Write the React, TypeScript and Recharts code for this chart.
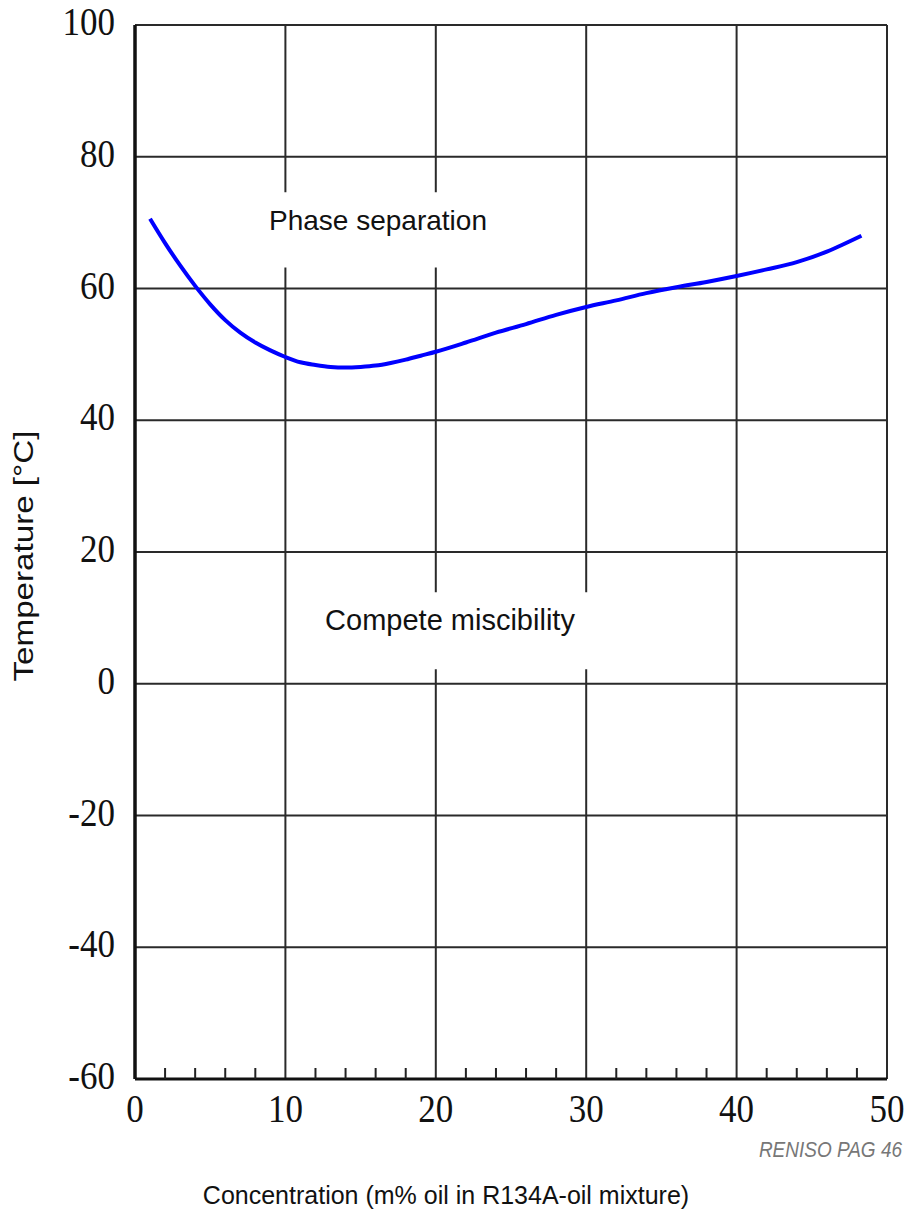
import { LineChart, Line, XAxis, YAxis, CartesianGrid, ReferenceArea } from 'recharts';

// Miscibility curve, R134A / PAG oil
const concentration = [1, 2, 3, 4, 5, 6, 7, 8, 9, 10, 11, 12, 13, 14, 15, 16, 17, 18, 19, 20, 22, 24, 26, 28, 30, 32, 34, 36, 38, 40, 42, 44, 46, 47, 48.3];
const temperature = [70.6, 66.9, 63.5, 60.4, 57.6, 55.2, 53.3, 51.8, 50.6, 49.6, 48.8, 48.4, 48.1, 48.0, 48.1, 48.3, 48.7, 49.2, 49.8, 50.4, 51.8, 53.3, 54.6, 56.0, 57.2, 58.2, 59.3, 60.2, 61.0, 61.9, 62.9, 64.0, 65.6, 66.6, 68.0];

const xTicks = [0, 2, 4, 6, 8, 10, 12, 14, 16, 18, 20, 22, 24, 26, 28, 30, 32, 34, 36, 38, 40, 42, 44, 46, 48, 50];
const yTicks = [-60, -40, -20, 0, 20, 40, 60, 80, 100];

const data = concentration.map((c, i) => ({ c, t: temperature[i] }));

const SERIF = '"Liberation Serif", "Times New Roman", serif';
const SANS = '"Liberation Sans", Arial, sans-serif';
const STRETCH = 1.17; // the source image is a bit taller than it is wide

type TickProps = { x?: number; y?: number; payload?: { value: number } };

function XTick({ x = 0, y = 0, payload }: TickProps) {
  const v = payload?.value ?? 0;
  if (v % 10 !== 0) {
    // minor ticks point up into the plot
    return <line x1={x} x2={x} y1={y} y2={y - 11} stroke="#222" strokeWidth={2} />;
  }
  return (
    <text
      transform={`translate(${x},${y + 43}) scale(1,${STRETCH})`}
      textAnchor="middle"
      fontFamily={SERIF}
      fontSize={35}
      fill="#111"
    >
      {v}
    </text>
  );
}

function YTick({ x = 0, y = 0, payload }: TickProps) {
  return (
    <text
      transform={`translate(${x},${y + 10}) scale(1,${STRETCH})`}
      textAnchor="end"
      fontFamily={SERIF}
      fontSize={35}
      fill="#111"
    >
      {payload?.value}
    </text>
  );
}

export default function App() {
  return (
    <div style={{ position: 'absolute', left: 0, top: 0, width: 912, height: 1209, background: '#fff' }}>
      <LineChart width={912} height={1209} data={data} margin={{ top: 25, right: 25, bottom: 70, left: 75 }}>
        <CartesianGrid stroke="#2a2a2a" strokeWidth={2} horizontalValues={yTicks} verticalValues={[0, 10, 20, 30, 40, 50]} />
        <XAxis
          dataKey="c"
          type="number"
          domain={[0, 50]}
          ticks={xTicks}
          interval={0}
          height={60}
          tickLine={false}
          tickSize={0}
          tickMargin={0}
          tick={<XTick />}
          axisLine={{ stroke: '#111', strokeWidth: 3 }}
        />
        <YAxis
          type="number"
          domain={[-60, 100]}
          ticks={yTicks}
          interval={0}
          width={60}
          tickLine={false}
          tickSize={0}
          tickMargin={20}
          tick={<YTick />}
          axisLine={{ stroke: '#111', strokeWidth: 3.5 }}
        />
        <ReferenceArea x1={7.6} x2={26.6} y1={63.2} y2={74.6} fill="#fff" fillOpacity={1} stroke="none" />
        <ReferenceArea x1={12.2} x2={31} y1={2.2} y2={13.9} fill="#fff" fillOpacity={1} stroke="none" />
        <Line
          dataKey="t"
          type="monotone"
          stroke="#0000ff"
          strokeWidth={4}
          dot={false}
          isAnimationActive={false}
        />
      </LineChart>
      <svg width={912} height={1209} style={{ position: 'absolute', left: 0, top: 0, pointerEvents: 'none' }}>
        <text x={378} y={230} textAnchor="middle" fontFamily={SANS} fontSize={28} fill="#111">
          Phase separation
        </text>
        <text x={450} y={630} textAnchor="middle" fontFamily={SANS} fontSize={29} fill="#111">
          Compete miscibility
        </text>
        <text
          transform={`translate(33,556) rotate(-90) scale(${STRETCH * 1.05},1)`}
          textAnchor="middle"
          fontFamily={SANS}
          fontSize={27}
          fill="#111"
        >
          Temperature [°C]
        </text>
        <text x={446} y={1204} textAnchor="middle" fontFamily={SANS} fontSize={25} fill="#111">
          Concentration (m% oil in R134A-oil mixture)
        </text>
        <text
          transform={`translate(902,1157) scale(1,${STRETCH})`}
          textAnchor="end"
          fontFamily={SANS}
          fontStyle="italic"
          fontSize={19}
          fill="#777"
        >
          RENISO PAG 46
        </text>
      </svg>
    </div>
  );
}
